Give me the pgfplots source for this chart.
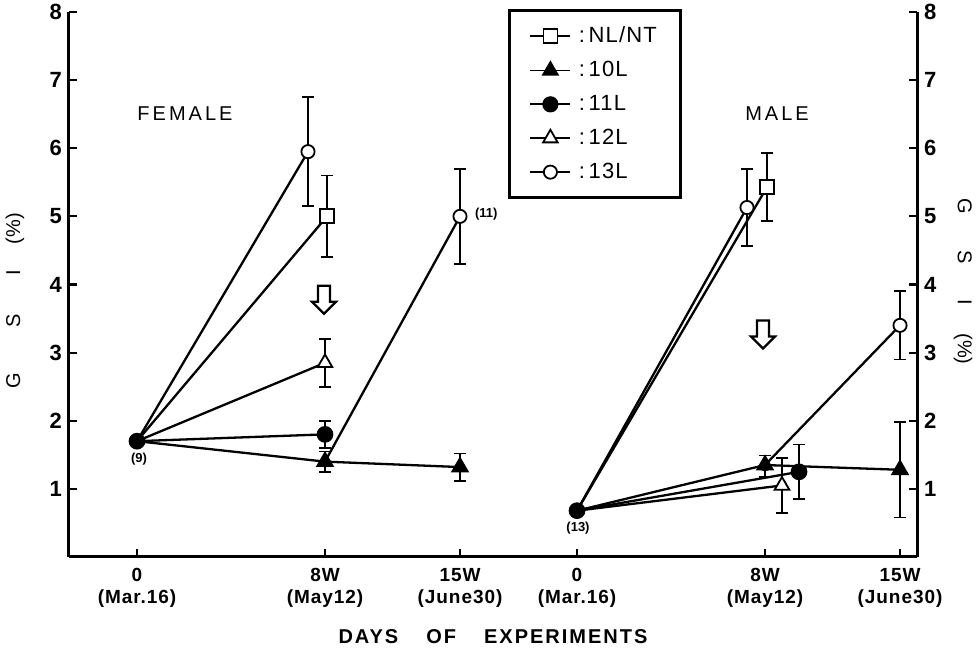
\documentclass[border=0pt]{standalone}
\usepackage{pgfplots}
\pgfplotsset{compat=1.18}
\usepackage{fontspec}
\setmainfont{Liberation Sans}
\usetikzlibrary{shapes.arrows}
\pgfplotsset{
  sq/.style={mark=square*, mark size=3.5pt, mark options={fill=white, solid, line width=0.9pt}},
  ftri/.style={mark=triangle*, mark size=4.2pt, mark options={fill=black, solid}},
  fdot/.style={mark=*, mark size=3.6pt, mark options={fill=black, solid}},
  otri/.style={mark=triangle*, mark size=4.2pt, mark options={fill=white, solid, line width=0.9pt}},
  ocirc/.style={mark=*, mark size=3.3pt, mark options={fill=white, solid, line width=0.9pt}},
  errs/.style={only marks, mark=none, forget plot,
    error bars/.cd, y dir=both, y explicit,
    error bar style={line width=0.9pt},
    error mark options={rotate=90, line width=0.9pt, mark size=3pt}},
}
\begin{document}
\begin{tikzpicture}
\begin{axis}[name=ax,
  scale only axis, width=424pt, height=272.5pt,
  xmin=69, xmax=917, ymin=0, ymax=8,
  axis x line*=bottom, axis y line*=left,
  axis line style={line width=1.5pt},
  tick style={line width=1.1pt, black},
  tick align=inside, major tick length=4pt,
  xtick={137,325,460,577,765,900},
  xticklabels={{0\\(Mar.16)},{8W\\(May12)},{15W\\(June30)},{0\\(Mar.16)},{8W\\(May12)},{15W\\(June30)}},
  xticklabel style={font=\bfseries\fontsize{9.5}{11}\selectfont\addfontfeatures{LetterSpace=5}, align=center, yshift=-2pt},
  ytick={1,2,3,4,5,6,7,8},
  yticklabel style={font=\bfseries\fontsize{11}{12}\selectfont},
  /pgf/number format/assume math mode=true,
  clip=false,
  every axis plot/.append style={black, line width=1.15pt},
  legend style={at={(axis cs:508,8.04)}, anchor=north west, draw=black, line width=1.5pt,
    font=\fontsize{11}{12}\selectfont\addfontfeatures{LetterSpace=5}, inner xsep=10pt, inner ysep=6pt, row sep=3.8pt, cells={anchor=west}},
  legend image code/.code={\draw[mark repeat=2, mark phase=2, #1, line width=0.9pt] plot coordinates {(0pt,0pt)(10pt,0pt)(20pt,0pt)};},
]
% legend images
\addlegendimage{sq}\addlegendentry{\,:\,NL/NT}
\addlegendimage{ftri}\addlegendentry{\,:\,10L}
\addlegendimage{fdot}\addlegendentry{\,:\,11L}
\addlegendimage{otri}\addlegendentry{\,:\,12L}
\addlegendimage{ocirc}\addlegendentry{\,:\,13L}

% ---------- error bars ----------
\addplot[errs] coordinates {
  (308,5.95) +- (0,0.80)
  (327,5.00) +- (0,0.60)
  (325,2.85) +- (0,0.35)
  (325,1.80) +- (0,0.20)
  (325,1.40) +- (0,0.15)
  (460,1.32) +- (0,0.20)
  (460,5.00) +- (0,0.70)
  (747,5.13) +- (0,0.56)
  (767,5.43) +- (0,0.50)
  (765,1.33) +- (0,0.16)
  (782,1.05) +- (0,0.40)
  (799,1.25) +- (0,0.40)
  (900,1.28) +- (0,0.70)
  (900,3.40) +- (0,0.50)
};

% ---------- FEMALE ----------
\addplot[forget plot, sq, mark indices={2}] coordinates {(137,1.7) (327,5.00)};
\addplot[forget plot, otri, mark indices={2}] coordinates {(137,1.7) (325,2.85)};
\addplot[forget plot, ocirc, mark indices={2}] coordinates {(137,1.7) (308,5.95)};
\addplot[forget plot, ftri, mark indices={2,3}] coordinates {(137,1.7) (325,1.40) (460,1.32)};
\addplot[forget plot, ocirc, mark indices={2}] coordinates {(325,1.40) (460,5.00)};
\addplot[forget plot, fdot] coordinates {(137,1.7) (325,1.80)};

% ---------- MALE ----------
\addplot[forget plot, sq, mark indices={2}] coordinates {(577,0.68) (767,5.43)};
\addplot[forget plot, ocirc, mark indices={2}] coordinates {(577,0.68) (747,5.13)};
\addplot[forget plot, otri, mark indices={2}] coordinates {(577,0.68) (782,1.05)};
\addplot[forget plot, ftri, mark indices={2,3}] coordinates {(577,0.68) (765,1.35) (900,1.28)};
\addplot[forget plot, ocirc, mark indices={2}] coordinates {(765,1.35) (900,3.40)};
\addplot[forget plot, fdot] coordinates {(577,0.68) (799,1.25)};

% annotations
\node[font=\fontsize{10}{12}\selectfont\addfontfeatures{LetterSpace=15}] at (axis cs:185,6.51) {FEMALE};
\node[font=\fontsize{10}{12}\selectfont\addfontfeatures{LetterSpace=15}] at (axis cs:777,6.51) {MALE};
\node[font=\bfseries\fontsize{6.5}{7}\selectfont] at (axis cs:139,1.43) {(9)};
\node[font=\bfseries\fontsize{6.5}{7}\selectfont, anchor=west] at (axis cs:468,5.04) {(11)};
\node[font=\bfseries\fontsize{6.5}{7}\selectfont] at (axis cs:578,0.43) {(13)};
\node[single arrow, draw, line width=1.1pt, shape border rotate=270, minimum height=14pt,
      minimum width=12pt, single arrow head extend=2.5pt, inner sep=2pt] at (axis cs:324,3.82) {};
\node[single arrow, draw, line width=1.1pt, shape border rotate=270, minimum height=14pt,
      minimum width=12pt, single arrow head extend=2.5pt, inner sep=2pt] at (axis cs:763,3.31) {};
\node[rotate=90, font=\fontsize{10}{12}\selectfont] at ([xshift=-27pt]rel axis cs:0,0.47)
  {G\hspace{23pt}S\hspace{19pt}I\hspace{13pt}(\%)};
\node[rotate=-90, font=\fontsize{10}{12}\selectfont] at ([xshift=23pt]rel axis cs:1,0.505)
  {G\hspace{18pt}S\hspace{18pt}I\hspace{14pt}(\%)};
\node[font=\bfseries\fontsize{10}{12}\selectfont\addfontfeatures{LetterSpace=10}] at ([yshift=-40pt]rel axis cs:0.5,0)
  {DAYS\hspace{14pt}OF\hspace{14pt}EXPERIMENTS};
\end{axis}
\begin{axis}[
  scale only axis, width=424pt, height=272.5pt,
  xmin=69, xmax=917, ymin=0, ymax=8,
  axis x line=none, axis y line*=right,
  axis line style={line width=1.5pt},
  tick style={line width=1.1pt, black},
  tick align=inside, major tick length=4pt,
  ytick={1,2,3,4,5,6,7,8},
  yticklabel style={font=\bfseries\fontsize{11}{12}\selectfont},
  /pgf/number format/assume math mode=true,
]
\addplot[draw=none] coordinates {(100,1)};
\end{axis}
\pgfresetboundingbox
\path[use as bounding box] ([shift={(-34.5pt,-50pt)}]ax.south west) rectangle ([shift={(31pt,6pt)}]ax.north east);
\end{tikzpicture}
\end{document}
